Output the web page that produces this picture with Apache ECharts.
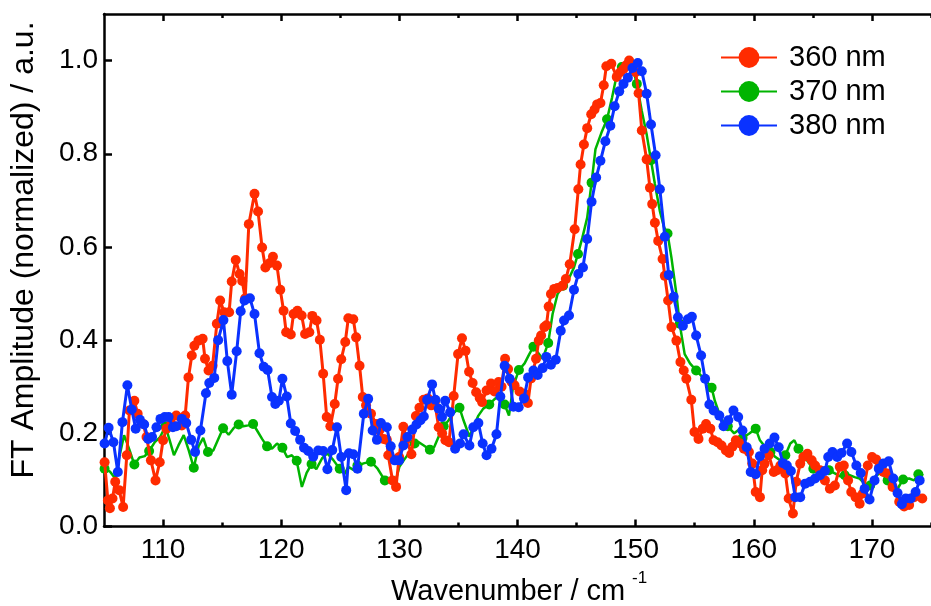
<!DOCTYPE html>
<html><head><meta charset="utf-8">
<script src="https://cdn.jsdelivr.net/npm/echarts@6/dist/echarts.min.js"></script>
<style>html,body{margin:0;padding:0;background:#fff}#c{width:931px;height:606px}</style>
</head><body><div id="c"></div>
<script>
const seriesNames = ['360 nm', '370 nm', '380 nm'];
const xMajorTicks = [110, 120, 130, 140, 150, 160, 170];
const xMinorTicks = [115, 125, 135, 145, 155, 165, 175];
const yTicks = [0, 0.2, 0.4, 0.6, 0.8, 1.0];

const redX = [105.05,105.33,105.5,105.72,105.95,106.28,106.62,106.93,107.15,107.57,107.85,108.32,108.6,108.97,109.36,109.72,110.0,110.28,110.7,111.12,111.59,111.87,112.15,112.43,112.65,112.99,113.35,113.55,113.85,114.19,114.55,114.83,115.17,115.59,115.81,116.15,116.48,116.7,116.95,117.26,117.74,118.04,118.38,118.66,119.0,119.3,119.64,119.92,120.2,120.42,120.81,121.04,121.37,121.73,122.02,122.38,122.63,122.99,123.27,123.55,123.85,124.16,124.53,124.81,125.08,125.42,125.68,126.1,126.34,126.63,126.9,127.18,127.6,128.02,128.3,128.66,128.94,129.06,129.42,129.72,129.98,130.34,130.6,131.02,131.4,131.7,132.05,132.4,132.7,133.0,133.33,133.62,133.9,134.2,134.6,134.97,135.3,135.6,135.9,136.2,136.5,136.8,137.0,137.38,137.76,138.05,138.4,138.65,138.95,139.2,139.5,139.75,140.17,140.59,140.88,141.15,141.57,141.8,142.0,142.27,142.45,142.64,142.83,143.11,143.39,143.81,144.09,144.42,144.84,145.15,145.34,145.62,145.9,146.24,146.52,146.74,147.02,147.3,147.52,147.94,148.4,148.7,148.97,149.2,149.45,149.7,150.0,150.25,150.52,150.93,151.21,151.4,151.63,151.91,152.28,152.47,152.75,153.03,153.45,153.79,154.07,154.29,154.71,154.98,155.32,155.68,155.96,156.32,156.6,156.94,157.27,157.64,157.92,158.19,158.48,158.84,159.17,159.59,159.87,160.16,160.52,160.71,160.91,161.27,161.69,161.97,162.25,162.67,162.95,163.31,163.59,163.93,164.2,164.54,164.9,165.19,165.6,166.02,166.44,166.86,167.28,167.62,167.98,168.25,168.62,168.96,169.23,169.65,170.01,170.35,170.63,170.97,171.33,171.75,172.31,172.73,173.15,173.57,174.26];
const redY = [0.138,0.056,0.039,0.06,0.096,0.078,0.042,0.153,0.249,0.27,0.242,0.22,0.192,0.142,0.099,0.138,0.185,0.21,0.22,0.238,0.217,0.238,0.32,0.367,0.388,0.399,0.403,0.36,0.335,0.345,0.435,0.485,0.46,0.46,0.526,0.572,0.542,0.527,0.49,0.649,0.714,0.676,0.599,0.556,0.565,0.579,0.56,0.508,0.463,0.417,0.412,0.456,0.463,0.453,0.413,0.417,0.452,0.442,0.401,0.328,0.235,0.215,0.263,0.317,0.359,0.396,0.447,0.445,0.406,0.345,0.278,0.26,0.242,0.22,0.206,0.188,0.186,0.153,0.099,0.085,0.149,0.214,0.188,0.155,0.237,0.255,0.272,0.275,0.26,0.266,0.213,0.2,0.185,0.181,0.28,0.37,0.404,0.377,0.332,0.308,0.288,0.276,0.267,0.292,0.307,0.29,0.31,0.3,0.36,0.338,0.31,0.303,0.29,0.285,0.265,0.318,0.36,0.399,0.41,0.428,0.432,0.472,0.499,0.51,0.512,0.517,0.531,0.563,0.638,0.724,0.777,0.82,0.855,0.885,0.895,0.906,0.909,0.947,0.988,0.993,0.965,0.975,0.982,0.99,1.0,0.99,0.975,0.93,0.85,0.788,0.727,0.692,0.652,0.613,0.574,0.538,0.485,0.428,0.399,0.353,0.335,0.317,0.272,0.203,0.188,0.21,0.22,0.21,0.185,0.181,0.174,0.163,0.158,0.171,0.185,0.178,0.167,0.16,0.135,0.074,0.063,0.121,0.135,0.153,0.117,0.121,0.131,0.114,0.06,0.028,0.096,0.135,0.149,0.156,0.142,0.131,0.121,0.099,0.081,0.088,0.128,0.131,0.099,0.074,0.063,0.049,0.071,0.131,0.149,0.144,0.128,0.117,0.114,0.085,0.053,0.043,0.046,0.063,0.06];

const greenX = [105.05,105.5,105.95,106.3,106.7,107.15,107.57,108.0,108.45,108.82,109.3,109.75,110.2,110.56,110.92,111.3,111.75,112.18,112.6,113.0,113.4,113.8,114.25,114.63,115.08,115.55,116.0,116.4,116.8,117.2,117.62,117.98,118.38,118.8,119.22,119.64,120.1,120.5,120.9,121.31,121.75,122.15,122.57,122.97,123.45,123.9,124.4,124.95,125.37,125.68,126.15,126.45,127.04,127.6,128.16,128.77,129.22,129.58,130.0,130.4,130.82,131.29,131.65,132.07,132.58,132.96,133.41,133.75,134.17,134.53,135.09,135.43,135.93,136.26,136.69,137.1,137.61,138.08,138.55,138.91,139.28,139.62,140.12,140.6,141.0,141.35,141.71,142.13,142.6,142.97,143.39,143.86,144.36,144.78,145.12,145.49,145.9,146.27,146.6,147.1,147.58,148.0,148.41,148.83,149.34,149.73,150.1,150.52,150.93,151.3,151.63,152.05,152.41,152.7,153.03,153.45,153.73,154.15,154.6,155.12,155.54,155.96,156.43,156.7,157.08,157.5,157.8,158.34,158.76,159.05,159.59,160.16,160.52,160.99,161.41,161.83,162.25,162.67,163.09,163.43,163.78,164.2,164.62,165.04,165.46,165.88,166.35,166.86,167.28,167.7,168.12,168.54,168.96,169.38,169.85,170.22,170.63,170.97,171.33,171.75,172.17,172.64,173.15,173.57,173.93,174.35];
const greenY = [0.124,0.118,0.103,0.15,0.196,0.165,0.133,0.148,0.151,0.162,0.181,0.192,0.215,0.185,0.153,0.174,0.196,0.163,0.126,0.172,0.19,0.16,0.163,0.185,0.211,0.197,0.212,0.219,0.215,0.217,0.22,0.205,0.188,0.172,0.167,0.178,0.169,0.149,0.153,0.141,0.085,0.115,0.134,0.123,0.146,0.157,0.143,0.124,0.113,0.128,0.121,0.131,0.136,0.139,0.124,0.099,0.096,0.088,0.128,0.143,0.158,0.178,0.181,0.174,0.165,0.171,0.198,0.215,0.228,0.242,0.255,0.228,0.193,0.213,0.238,0.253,0.262,0.274,0.281,0.262,0.238,0.299,0.336,0.35,0.37,0.386,0.374,0.36,0.394,0.456,0.499,0.517,0.533,0.556,0.585,0.62,0.663,0.738,0.81,0.845,0.874,0.92,0.97,0.986,0.993,0.988,0.95,0.892,0.842,0.786,0.735,0.677,0.642,0.629,0.577,0.499,0.435,0.37,0.35,0.335,0.324,0.313,0.298,0.27,0.242,0.22,0.215,0.2,0.208,0.19,0.199,0.21,0.185,0.17,0.16,0.149,0.142,0.153,0.178,0.185,0.167,0.153,0.138,0.124,0.128,0.122,0.121,0.114,0.108,0.11,0.11,0.106,0.103,0.092,0.088,0.106,0.114,0.11,0.099,0.088,0.081,0.101,0.103,0.099,0.112,0.11];
const greenMark = [1,0,0,0,0,0,1,0,0,1,0,0,1,0,0,0,0,0,1,0,0,1,0,0,1,0,0,1,0,0,1,0,0,1,0,0,1,0,0,1,0,0,1,0,0,0,0,1,0,0,0,1,0,1,0,1,0,0,0,0,0,1,0,0,1,0,0,1,0,0,1,0,0,0,0,0,1,0,0,1,0,0,1,0,0,1,0,0,1,0,0,1,0,0,1,0,0,1,0,0,1,0,0,1,0,0,1,0,0,1,0,0,0,1,0,0,1,0,0,1,0,0,1,0,0,0,1,0,0,1,0,1,0,0,1,0,0,1,0,0,1,0,0,1,0,0,1,0,0,1,0,0,0,0,1,0,0,0,1,0,0,1,0,0,1,0];

const blueX = [105.05,105.39,105.8,106.17,106.56,106.98,107.35,107.68,108.04,108.4,108.74,109.07,109.44,109.78,110.14,110.47,110.83,111.12,111.59,111.96,112.38,112.71,113.16,113.63,113.91,114.33,114.66,115.11,115.44,115.81,116.23,116.57,116.9,117.35,117.74,118.16,118.52,118.85,119.22,119.5,119.8,120.1,120.47,120.81,121.18,121.6,121.93,122.29,122.71,123.13,123.55,123.91,124.32,124.72,125.08,125.5,125.73,126.1,126.45,126.99,127.36,127.74,128.1,128.44,128.94,129.27,129.61,129.98,130.34,130.68,131.09,131.45,131.79,132.07,132.35,132.77,133.05,133.33,133.61,133.88,134.3,134.72,135.14,135.43,135.93,136.26,136.69,137.05,137.38,137.8,138.22,138.55,138.91,139.33,139.65,140.1,140.55,140.9,141.35,141.71,142.13,142.44,142.83,143.24,143.66,143.94,144.36,144.78,145.15,145.54,145.9,146.27,146.66,147.02,147.44,147.86,148.22,148.61,148.97,149.34,149.73,150.18,150.52,150.93,151.3,151.69,152.05,152.47,152.8,153.22,153.58,154.0,154.42,154.76,155.12,155.54,155.88,156.24,156.6,157.08,157.44,157.84,158.28,158.68,159.04,159.4,159.74,160.16,160.52,160.91,161.35,161.75,162.11,162.47,162.8,163.14,163.51,163.93,164.35,164.77,165.19,165.6,166.02,166.3,166.66,167.06,167.42,167.9,168.26,168.68,169.05,169.38,169.8,170.22,170.58,170.97,171.42,171.81,172.17,172.53,172.86,173.28,173.7,174.04];
const blueY = [0.178,0.212,0.181,0.117,0.224,0.303,0.251,0.21,0.229,0.219,0.188,0.192,0.213,0.231,0.235,0.235,0.213,0.215,0.231,0.222,0.186,0.16,0.206,0.286,0.308,0.319,0.4,0.443,0.355,0.283,0.376,0.462,0.485,0.49,0.456,0.372,0.343,0.336,0.278,0.263,0.27,0.317,0.279,0.221,0.205,0.186,0.169,0.162,0.15,0.163,0.162,0.123,0.164,0.213,0.149,0.078,0.157,0.155,0.124,0.242,0.274,0.206,0.186,0.222,0.213,0.172,0.142,0.142,0.174,0.192,0.208,0.219,0.228,0.236,0.272,0.305,0.272,0.253,0.235,0.27,0.245,0.167,0.178,0.198,0.174,0.213,0.222,0.178,0.153,0.167,0.198,0.279,0.345,0.317,0.257,0.256,0.275,0.32,0.335,0.325,0.34,0.364,0.347,0.358,0.42,0.442,0.453,0.508,0.542,0.556,0.617,0.697,0.749,0.785,0.827,0.86,0.902,0.934,0.95,0.963,0.984,0.995,0.977,0.929,0.863,0.797,0.724,0.622,0.54,0.493,0.449,0.431,0.445,0.45,0.41,0.367,0.317,0.262,0.249,0.238,0.215,0.228,0.249,0.235,0.206,0.17,0.117,0.112,0.151,0.167,0.178,0.191,0.17,0.136,0.131,0.119,0.063,0.063,0.092,0.096,0.103,0.11,0.119,0.149,0.16,0.149,0.158,0.178,0.16,0.131,0.115,0.081,0.058,0.099,0.124,0.135,0.14,0.103,0.072,0.048,0.06,0.06,0.074,0.099];

const colors = ['#ff2b00', '#00b400', '#0a32ff'];
const FONT = '"Liberation Sans", Arial, sans-serif';

const zip = (xs, ys) => xs.map((x, i) => [x, ys[i]]);

const chart = echarts.init(document.getElementById('c'), null, {renderer: 'canvas'});

function xAxisBase(pos, ticks, len, showLine, showLabel) {
  return {
    type: 'value', position: pos, min: 105, max: 175, interval: 5,
    axisLine: {show: showLine, onZero: false, lineStyle: {color: '#000', width: 2.5}},
    axisTick: {show: true, inside: true, length: len, customValues: ticks, lineStyle: {color: '#000', width: 2.5}},
    axisLabel: {show: showLabel, customValues: ticks, margin: 10, color: '#000', fontSize: 28, fontFamily: FONT},
    splitLine: {show: false}
  };
}

const option = {
  animation: false,
  backgroundColor: '#fff',
  grid: {left: 104, top: 14, width: 835, height: 512.5, containLabel: false},
  xAxis: [
    xAxisBase('bottom', xMajorTicks, 7, true, true),
    xAxisBase('bottom', xMinorTicks, 4, false, false),
    xAxisBase('top', xMajorTicks, 7, true, false),
    xAxisBase('top', xMinorTicks, 4, false, false)
  ],
  yAxis: {
    type: 'value', min: 0, max: 1.1,
    axisLine: {show: true, onZero: false, lineStyle: {color: '#000', width: 2.5}},
    axisTick: {show: true, inside: true, length: 8, customValues: yTicks, lineStyle: {color: '#000', width: 2.5}},
    axisLabel: {customValues: yTicks, margin: 6, color: '#000', fontSize: 28, fontFamily: FONT,
      formatter: v => v.toFixed(1)},
    splitLine: {show: false}
  },
  legend: {
    orient: 'vertical', left: 715, top: 38, itemWidth: 56, itemHeight: 26, itemGap: 5,
    data: seriesNames,
    textStyle: {fontSize: 29, color: '#000', fontFamily: FONT, padding: [0, 0, 0, 7]}
  },
  graphic: [
    {type: 'text', x: 391, y: 592, style: {text: 'Wavenumber / cm', fill: '#000', fontSize: 29, fontFamily: FONT, align: 'left', verticalAlign: 'middle'}},
    {type: 'text', x: 632, y: 578, style: {text: '-1', fill: '#000', fontSize: 17, fontFamily: FONT, align: 'left', verticalAlign: 'middle'}},
    {type: 'text', x: 24, y: 250, rotation: Math.PI / 2, style: {text: 'FT Amplitude (normalized) / a.u.', fill: '#000', fontSize: 32, fontFamily: FONT, align: 'center', verticalAlign: 'middle'}}
  ],
  series: [
    {name: seriesNames[0], type: 'line', data: zip(redX, redY), color: colors[0],
      symbol: 'circle', symbolSize: 10, showSymbol: true, showAllSymbol: true,
      lineStyle: {width: 3, color: colors[0]}, itemStyle: {color: colors[0]}, z: 3},
    {name: seriesNames[1], type: 'line', data: zip(greenX, greenY), color: colors[1],
      symbol: 'circle', symbolSize: (v, p) => greenMark[p.dataIndex] ? 10 : 0, showSymbol: true, showAllSymbol: true,
      lineStyle: {width: 2.5, color: colors[1]}, itemStyle: {color: colors[1]}, z: 2},
    {name: seriesNames[2], type: 'line', data: zip(blueX, blueY), color: colors[2],
      symbol: 'circle', symbolSize: 10, showSymbol: true, showAllSymbol: true,
      lineStyle: {width: 3, color: colors[2]}, itemStyle: {color: colors[2]}, z: 4}
  ]
};
chart.setOption(option);
</script>
</body></html>
